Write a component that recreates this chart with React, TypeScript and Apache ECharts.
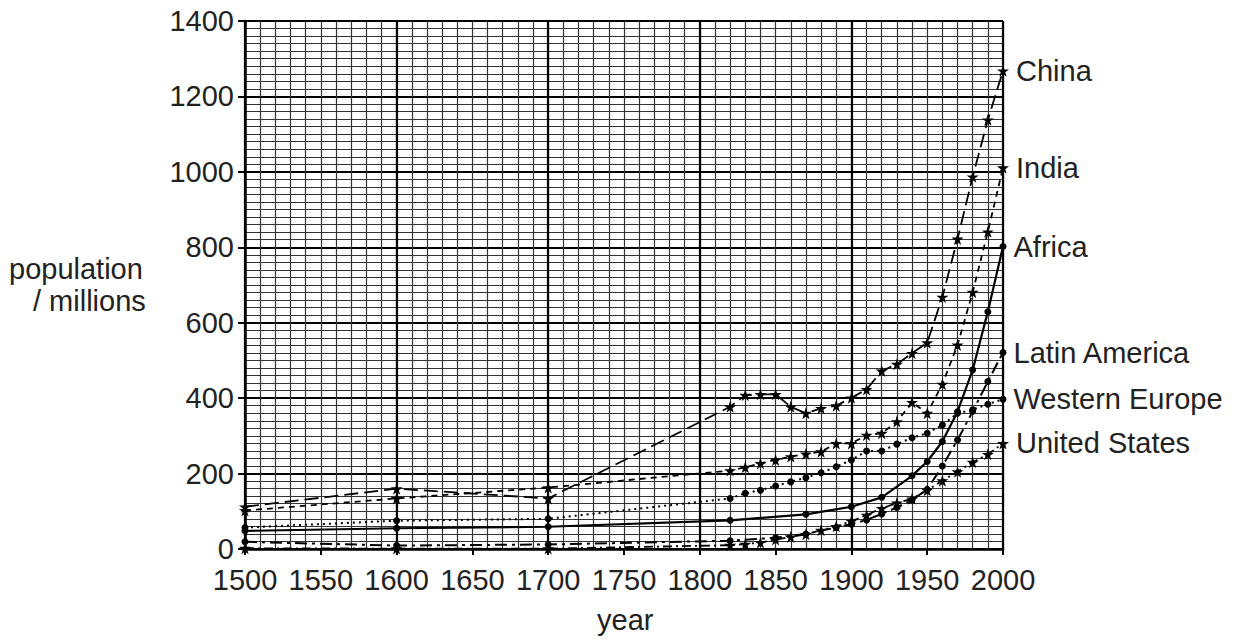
import React, { useEffect, useRef } from "react";
import * as echarts from "echarts";

const decadeYears = [1500, 1600, 1700, 1820, 1830, 1840, 1850, 1860, 1870, 1880, 1890, 1900, 1910, 1920, 1930, 1940, 1950, 1960, 1970, 1980, 1990, 2000];

const chinaValues = [112, 160, 134, 377, 408, 410, 410, 377, 360, 373, 380, 401, 423, 472, 490, 519, 547, 668, 822, 987, 1138, 1268];
const indiaValues = [102, 134, 163, 208, 217, 227, 236, 245, 252, 258, 280, 280, 302, 307, 338, 389, 360, 437, 541, 681, 841, 1011];
const westernEuropeValues = [57, 75, 80, 134, 148, 156, 167, 178, 189, 202, 218, 236, 260, 260, 278, 295, 307, 329, 360, 369, 384, 397];
const usValues = [2, 1, 1, 10, 13, 17, 25, 32, 39, 50, 60, 74, 90, 108, 122, 133, 156, 181, 205, 230, 251, 280];

const africaYears = [1500, 1600, 1700, 1820, 1870, 1900, 1920, 1940, 1950, 1960, 1970, 1980, 1990, 2000];
const africaValues = [48, 55, 59, 76, 92, 112, 137, 194, 232, 285, 364, 475, 629, 802];

const latinYears = [1500, 1600, 1700, 1820, 1850, 1870, 1890, 1900, 1910, 1920, 1930, 1940, 1950, 1960, 1970, 1980, 1990, 2000];
const latinValues = [19, 9, 12, 22, 30, 40, 57, 66, 77, 93, 110, 130, 158, 220, 289, 365, 444, 521];

const xTickLabels = [1500, 1550, 1600, 1650, 1700, 1750, 1800, 1850, 1900, 1950, 2000];
const yTickLabels = [0, 200, 400, 600, 800, 1000, 1200, 1400];

const STAR = "path://M50,0 L61,35 L98,35 L68,57 L79,91 L50,70 L21,91 L32,57 L2,35 L39,35 Z";
const FONT = "'Liberation Sans', Arial, sans-serif";
const TXT = "#222";
const FS = 29;

function pairs(years: number[], values: number[], name: string) {
  return years.map((y, i) => {
    if (i === years.length - 1) {
      return {
        value: [y, values[i]],
        label: {
          show: true,
          position: "right",
          distance: 7,
          formatter: name,
          fontSize: FS,
          fontFamily: FONT,
          color: TXT,
        },
      };
    }
    return { value: [y, values[i]] };
  });
}

function mkSeries(name: string, years: number[], values: number[], dash: any, star: boolean, width: number) {
  return {
    name,
    type: "line",
    xAxisIndex: 0,
    yAxisIndex: 0,
    data: pairs(years, values, name),
    symbol: star ? STAR : "circle",
    symbolSize: star ? 12 : 7,
    showSymbol: true,
    itemStyle: { color: "#000", borderWidth: 0 },
    lineStyle: { color: "#000", width, type: dash },
    z: 5,
    label: { show: false },
  };
}

const hiddenX = (interval: number, color: string, width: number) => ({
  type: "value",
  position: "top",
  min: xTickLabels[0],
  max: xTickLabels[xTickLabels.length - 1],
  interval,
  axisLine: { show: false },
  axisTick: { show: false },
  axisLabel: { show: false },
  splitLine: { show: true, lineStyle: { color, width } },
});

const hiddenY = (interval: number, color: string, width: number) => ({
  type: "value",
  position: "right",
  min: yTickLabels[0],
  max: yTickLabels[yTickLabels.length - 1],
  interval,
  axisLine: { show: false },
  axisTick: { show: false },
  axisLabel: { show: false },
  splitLine: { show: true, lineStyle: { color, width } },
});

export default function App() {
  const ref = useRef<HTMLDivElement>(null);
  useEffect(() => {
    if (!ref.current) return;
    const chart = echarts.init(ref.current, undefined, { renderer: "svg" });
    const option: any = {
      animation: false,
      backgroundColor: "#fff",
      grid: { left: 245, right: 233, top: 21, bottom: 92, containLabel: false },
      xAxis: [
        {
          type: "value",
          min: xTickLabels[0],
          max: xTickLabels[xTickLabels.length - 1],
          interval: 50,
          axisLine: { show: true, onZero: false, lineStyle: { color: "#000", width: 2.5 } },
          axisTick: { show: true, inside: false, length: 6, lineStyle: { color: "#000", width: 2 } },
          axisLabel: {
            fontSize: FS,
            lineHeight: FS,
            fontFamily: FONT,
            color: TXT,
            margin: 16,
            formatter: (v: number) => String(v),
          },
          splitLine: { show: false },
          z: 10,
        },
        hiddenX(10, "#333", 1.2),
        hiddenX(100, "#000", 2.2),
      ],
      yAxis: [
        {
          type: "value",
          min: yTickLabels[0],
          max: yTickLabels[yTickLabels.length - 1],
          interval: 200,
          axisLine: { show: true, onZero: false, lineStyle: { color: "#000", width: 2.5 } },
          axisTick: { show: true, inside: false, length: 7, lineStyle: { color: "#000", width: 2 } },
          axisLabel: {
            fontSize: FS,
            lineHeight: FS,
            fontFamily: FONT,
            color: TXT,
            margin: 11,
            formatter: (v: number) => String(v),
          },
          splitLine: { show: false },
          z: 10,
        },
        hiddenY(20, "#333", 1.2),
        hiddenY(200, "#000", 2.2),
      ],
      graphic: [
        {
          type: "text",
          left: 9,
          top: 254,
          style: { text: "population", fontSize: FS, fontFamily: FONT, fill: TXT },
        },
        {
          type: "text",
          left: 33,
          top: 286,
          style: { text: "/ millions", fontSize: FS, fontFamily: FONT, fill: TXT },
        },
        {
          type: "text",
          left: 597,
          top: 605,
          style: { text: "year", fontSize: FS, fontFamily: FONT, fill: TXT },
        },
      ],
      series: [
        mkSeries("China", decadeYears, chinaValues, [14, 6], true, 1.8),
        mkSeries("India", decadeYears, indiaValues, [6, 5], true, 1.8),
        mkSeries("Africa", africaYears, africaValues, "solid", false, 2.2),
        mkSeries("Latin America", latinYears, latinValues, [12, 5, 3, 5], false, 2),
        mkSeries("Western Europe", decadeYears, westernEuropeValues, [2, 4], false, 2),
        mkSeries("United States", decadeYears, usValues, [9, 4, 2, 4], true, 1.8),
      ],
    };
    chart.setOption(option);
    return () => chart.dispose();
  }, []);
  return (
    <div
      ref={ref}
      style={{ position: "fixed", left: 0, top: 0, width: 1236, height: 641, background: "#fff" }}
    />
  );
}
